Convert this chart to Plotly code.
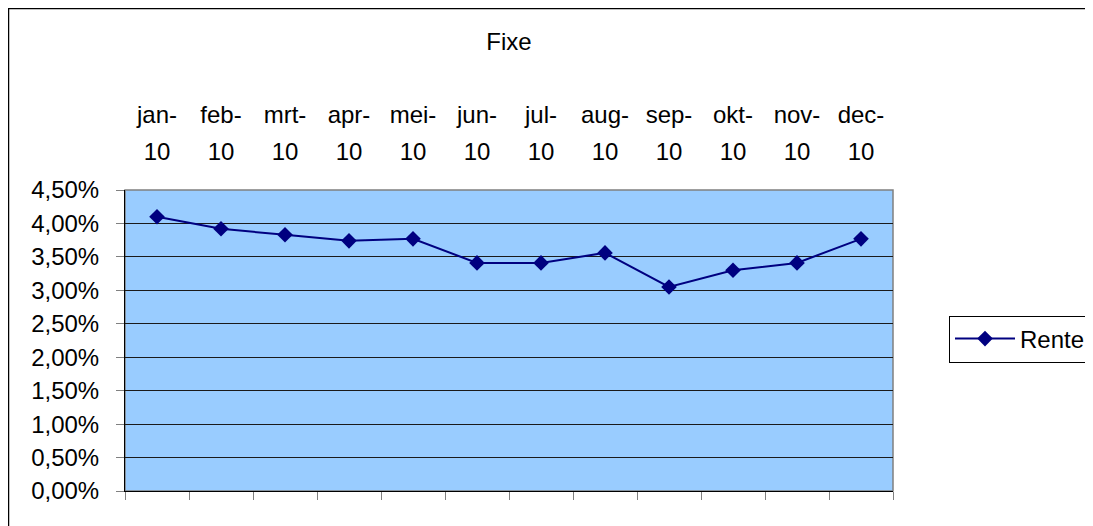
# rente fixe per maand 2010
import plotly.graph_objects as go

maanden = ["jan-10", "feb-10", "mrt-10", "apr-10", "mei-10", "jun-10",
           "jul-10", "aug-10", "sep-10", "okt-10", "nov-10", "dec-10"]
label_boven = ["jan-", "feb-", "mrt-", "apr-", "mei-", "jun-",
               "jul-", "aug-", "sep-", "okt-", "nov-", "dec-"]
label_onder = ["10"] * 12
rente = [0.0410, 0.0392, 0.0383, 0.0374, 0.0377, 0.0341,
         0.0341, 0.0356, 0.0305, 0.0330, 0.0341, 0.0377]
y_ticks = [0.0, 0.005, 0.01, 0.015, 0.02, 0.025, 0.03, 0.035, 0.04, 0.045]
y_labels = ["0,00%", "0,50%", "1,00%", "1,50%", "2,00%", "2,50%",
            "3,00%", "3,50%", "4,00%", "4,50%"]

# pagina heeft 8px marge rondom, dus figuur iets kleiner
W, H = 1085, 518
ML, MR, MT, MB = 117, 200, 30, 35
plot_w = W - ML - MR
plot_h = H - MT - MB
bodem = H - MB


def py(p):
    # pixel (van boven) naar paper-y
    return (bodem - p) / plot_h


def px(p):
    return (p - ML) / plot_w


fig = go.Figure()

fig.add_trace(go.Scatter(
    x=maanden, y=rente, name="Rente",
    mode="lines+markers",
    line={"color": "#000080", "width": 2},
    marker={"symbol": "diamond", "size": 12, "color": "#000080"},
))

# onzichtbare traces zodat de bovenste as-labels getekend worden
for ax in ["x2", "x3"]:
    fig.add_trace(go.Scatter(x=maanden, y=rente, xaxis=ax, mode="none",
                             showlegend=False, hoverinfo="skip"))

font = {"family": "Liberation Sans, Arial", "size": 24, "color": "black"}

boven_as = {"type": "category", "categoryorder": "array", "categoryarray": maanden,
            "overlaying": "x", "side": "top", "anchor": "free",
            "range": [-0.5, 11.5], "tickmode": "array", "tickvals": maanden,
            "ticks": "", "showgrid": False, "showline": False, "zeroline": False}

fig.update_layout(
    width=W, height=H,
    margin={"l": ML, "r": MR, "t": MT, "b": MB, "autoexpand": False},
    paper_bgcolor="white",
    plot_bgcolor="#99CCFF",
    font=font,
    title={"text": "Fixe", "x": 0.5, "xref": "paper", "y": 1 - 34 / H,
           "yref": "container", "yanchor": "middle", "font": font},
    xaxis={"type": "category", "categoryorder": "array", "categoryarray": maanden,
           "range": [-0.5, 11.5], "tickson": "boundaries", "ticks": "outside",
           "ticklen": 8, "tickcolor": "#808080", "showticklabels": False,
           "showgrid": False, "showline": True, "linecolor": "black",
           "linewidth": 1, "zeroline": False},
    xaxis2=dict(boven_as, position=py(157), ticktext=label_onder),
    xaxis3=dict(boven_as, position=py(120), ticktext=label_boven),
    yaxis={"domain": [0, py(182)], "range": [0, 0.045],
           "tickmode": "array", "tickvals": y_ticks, "ticktext": y_labels,
           "ticks": "outside", "ticklen": 8, "tickcolor": "#808080",
           "ticklabelstandoff": 12,
           "showgrid": True, "gridcolor": "#1a1a1a", "gridwidth": 1,
           "showline": True, "linecolor": "black", "zeroline": False},
    legend={"x": px(941), "xanchor": "left",
            "y": py(331), "yanchor": "middle", "itemwidth": 60,
            "bordercolor": "black", "borderwidth": 1, "bgcolor": "white",
            "font": font},
    showlegend=True,
    shapes=[
        # rand rond het plotgebied (boven en rechts grijs)
        {"type": "rect", "xref": "x domain", "yref": "y domain",
         "x0": 0, "x1": 1, "y0": 0, "y1": 1,
         "line": {"color": "#808080", "width": 1.5}, "layer": "below"},
        # buitenrand van de grafiek
        {"type": "rect", "xref": "paper", "yref": "paper",
         "x0": px(0.5), "x1": px(W + 20),
         "y0": py(H + 20), "y1": py(0.5),
         "line": {"color": "black", "width": 1.5}},
    ],
)

fig.write_html("out.html")
